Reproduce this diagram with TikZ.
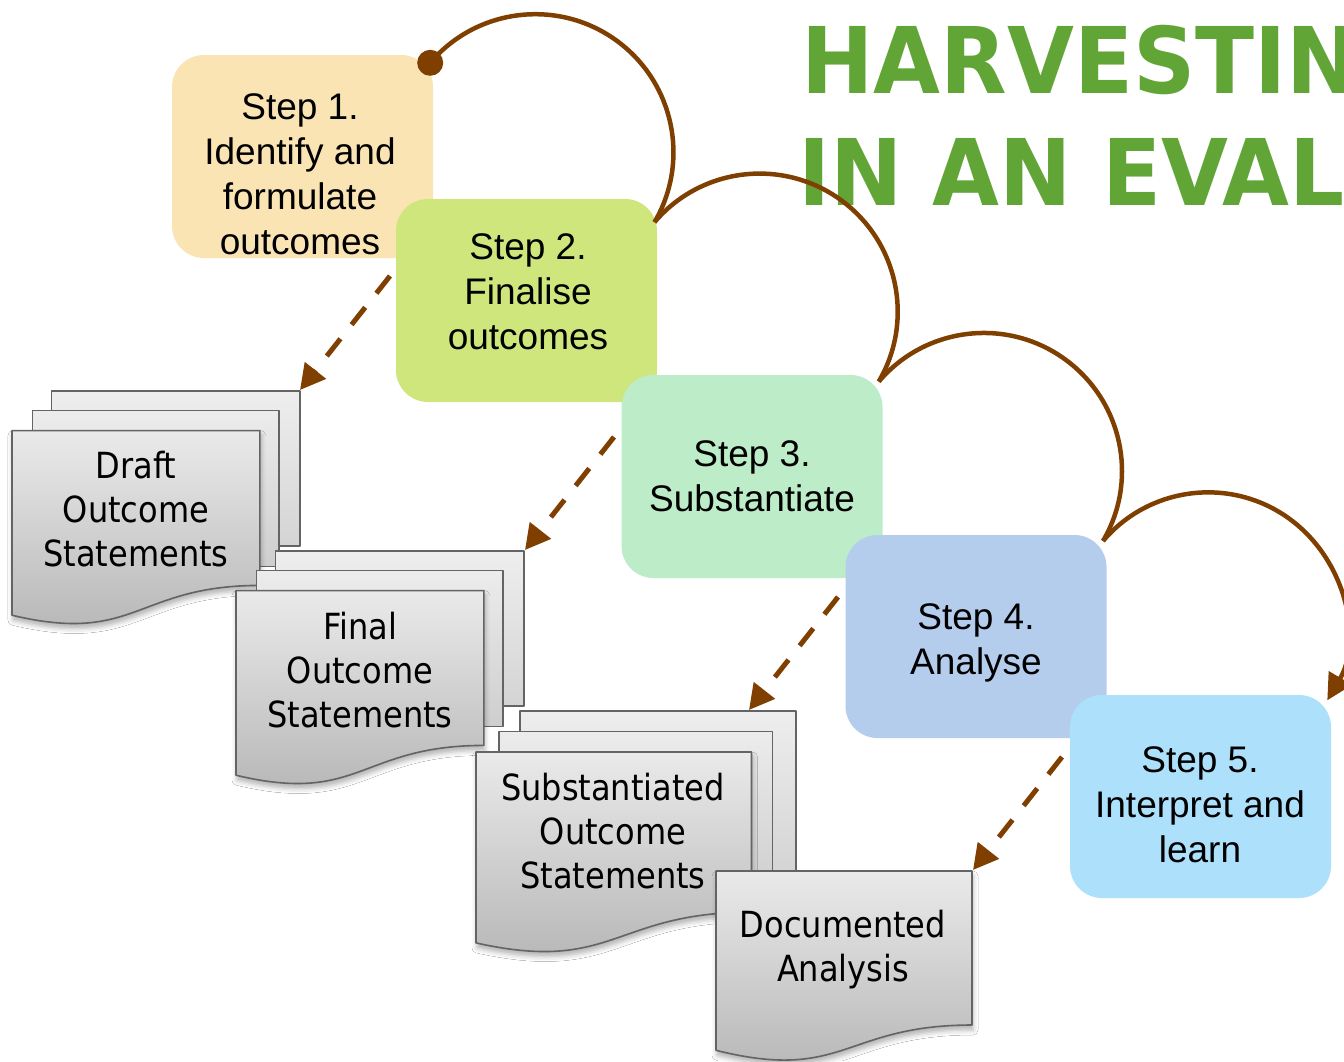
\documentclass[tikz,border=0pt]{standalone}
\usepackage{fontspec}
\setmainfont{Liberation Sans}
\newfontfamily\docfont{DejaVu Sans}[FakeStretch=0.89]
\newfontfamily\titlefont{DejaVu Sans}[FakeStretch=0.94]
\usetikzlibrary{arrows.meta,shadows.blur}

\definecolor{brownline}{RGB}{127,63,0}
\definecolor{titlegreen}{RGB}{98,165,55}
\definecolor{stepA}{RGB}{250,228,180}
\definecolor{stepB}{RGB}{206,230,124}
\definecolor{stepC}{RGB}{189,236,200}
\definecolor{stepD}{RGB}{180,205,236}
\definecolor{stepE}{RGB}{173,225,251}
\definecolor{sheetEdge}{RGB}{100,100,100}
\definecolor{backTop}{RGB}{238,238,238}
\definecolor{backBot}{RGB}{212,212,212}
\definecolor{midTop}{RGB}{236,236,236}
\definecolor{midBot}{RGB}{206,206,206}
\definecolor{frontTop}{RGB}{234,234,234}
\definecolor{frontBot}{RGB}{180,180,180}

\tikzset{
  stepbox/.style={rounded corners=32pt, minimum width=261pt, minimum height=203pt,
    inner sep=0pt, draw=none},
  steptext/.style={font=\fontsize{37}{45}\selectfont, align=center, inner sep=0pt},
  doctext/.style={font=\docfont\fontsize{36}{44}\selectfont, align=center, inner sep=0pt},
  headline/.style={font=\titlefont\bfseries\fontsize{92}{112}\selectfont,
    text=titlegreen, inner sep=0pt, anchor=base west},
  sheet/.style={draw=sheetEdge, line width=1.6pt, line join=round},
  backsheet/.style={sheet, top color=backTop, bottom color=backBot},
  midsheet/.style={sheet, top color=midTop, bottom color=midBot},
  frontsheet/.style={sheet, top color=frontTop, bottom color=frontBot,
    blur shadow={shadow xshift=1pt, shadow yshift=-5pt, shadow blur radius=5pt,
      shadow opacity=30}},
  loopline/.style={draw=brownline, line width=4.5pt},
  feed/.style={draw=brownline, line width=5pt, dash pattern=on 22pt off 18pt,
    -{Triangle[length=25pt,width=26pt]}},
}

\begin{document}
\begin{tikzpicture}[x=1pt,y=-1pt]
\useasboundingbox (0,0) rectangle (1344,1061);
\clip (0,0) rectangle (1344,1061);
\fill[white] (0,0) rectangle (1344,1061);

% heading
\node[headline] (t1) at (801,93) {HARVESTIN};
\node[headline] (t2) at (798,205) {IN AN EVAL};

% the five steps, each one overlapping the previous
\node[stepbox, fill=stepA] (s1) at (302.5,156.5) {};
\node[steptext] (l1) at (300,174) {Step 1.\\Identify and\\formulate\\outcomes};
\node[stepbox, fill=stepB] (s2) at (526.5,300.5) {};
\node[steptext] (l2) at (528,292) {Step 2.\\Finalise\\outcomes};
\node[stepbox, fill=stepC] (s3) at (752,476.5) {};
\node[steptext] (l3) at (752,476) {Step 3.\\Substantiate};
\node[stepbox, fill=stepD] (s4) at (976,636.5) {};
\node[steptext] (l4) at (976,643) {Step 4.\\Analyse};
\node[stepbox, fill=stepE] (s5) at (1200.5,796.5) {};
\node[steptext] (l5) at (1200,805) {Step 5.\\Interpret and\\learn};

% document stack: draft statements
\path[backsheet] (51.6,391) rectangle (300,546.2);
\path[midsheet] (32.4,410.6) rectangle (278.7,566.3);
\path[frontsheet] (12,430.6) -- (259.9,430.6) -- (259.9,585.4)
  .. controls (136,585.4) and (136,644.9) .. (12,615.2) -- cycle;
\node[doctext] (d1) at (136,509) {Draft\\Outcome\\Statements};

% document stack: final statements
\path[backsheet] (275.6,551) rectangle (524,706.2);
\path[midsheet] (256.4,570.6) rectangle (502.7,726.3);
\path[frontsheet] (236,590.6) -- (483.9,590.6) -- (483.9,745.4)
  .. controls (360,745.4) and (360,804.9) .. (236,775.2) -- cycle;
\node[doctext] (d2) at (360,670) {Final\\Outcome\\Statements};

% document stack: substantiated statements
\path[backsheet] (520,711) rectangle (796,871.6);
\path[midsheet] (498.7,731.3) rectangle (772.3,892.3);
\path[frontsheet] (476,752) -- (751.5,752) -- (751.5,912.1)
  .. controls (613.8,912.1) and (613.8,973.7) .. (476,942.9) -- cycle;
\node[doctext] (d3) at (613,831) {Substantiated\\Outcome\\Statements};

% single document: analysis
\path[frontsheet] (716,871) -- (972,871) -- (972,1025)
  .. controls (844,1025) and (844,1082.4) .. (716,1050.3) -- cycle;
\node[doctext] (d4) at (843,950) {Documented\\Analysis};

% outputs handed from each step to its document
\coordinate (a1) at (390,276);
\coordinate (e1) at (300,390);
\coordinate (a2) at (614,437);
\coordinate (e2) at (525,550);
\coordinate (a3) at (838,597);
\coordinate (e3) at (749,710);
\coordinate (a4) at (1062,757);
\coordinate (e4) at (973,870);
\draw[feed] (a1) -- (e1);
\draw[feed] (a2) -- (e2);
\draw[feed] (a3) -- (e3);
\draw[feed] (a4) -- (e4);

% looping path linking the steps
\coordinate (c1) at ([shift={(-3,8)}]s1.north east);
\draw[loopline] (c1) arc[start angle=-139.6, end angle=30.4, radius=138.1] coordinate (c2);
\draw[loopline] (c2) arc[start angle=-139.6, end angle=30.4, radius=138.1] coordinate (c3);
\draw[loopline] (c3) arc[start angle=-139.6, end angle=30.4, radius=138.1] coordinate (c4);
\draw[loopline, -{Triangle[length=26pt,width=26pt]}]
  (c4) arc[start angle=-139.6, end angle=30.4, radius=138.1];
\fill[brownline] (c1) circle[radius=13];
\end{tikzpicture}
\end{document}
